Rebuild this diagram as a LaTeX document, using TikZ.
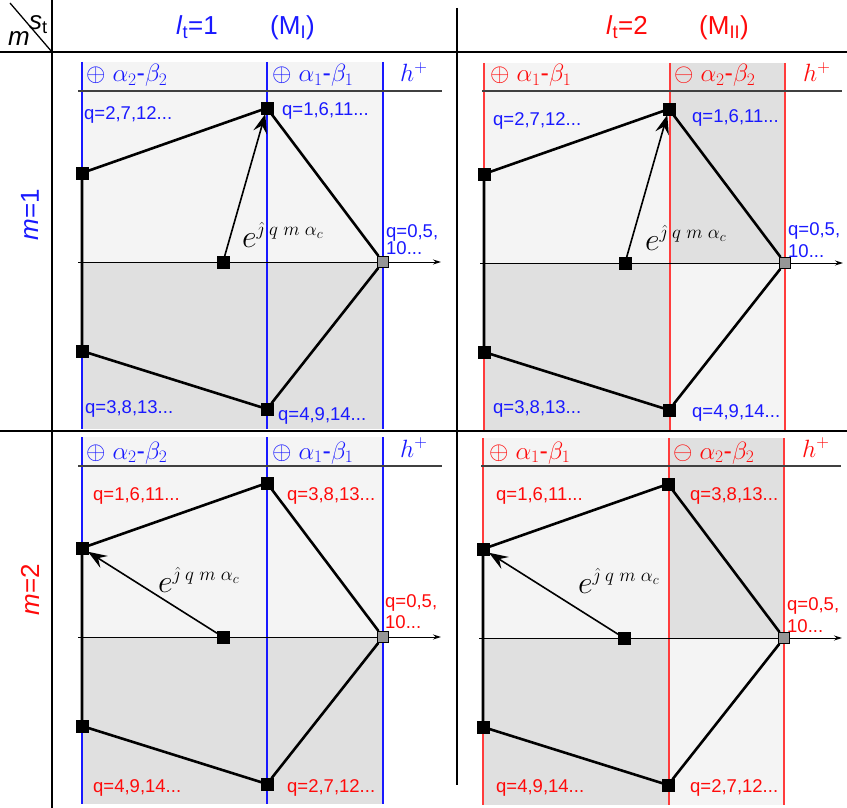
\documentclass[tikz,border=0pt]{standalone}
\usepackage{fix-cm}
\usepackage{fontspec}
\setmainfont{Liberation Sans}
\usetikzlibrary{arrows.meta}
\DeclareMathSizes{32}{32}{19}{14}
\definecolor{cblue}{RGB}{25,25,255}
\definecolor{cred}{RGB}{255,10,10}
\definecolor{lred}{RGB}{255,60,60}
\definecolor{gl}{RGB}{244,244,244}
\definecolor{gd}{RGB}{224,224,224}
\definecolor{gsqc}{RGB}{150,150,150}
\tikzset{
  sq/.style={fill=black, draw=black, minimum size=11.5pt, inner sep=0pt},
  gsqs/.style={fill=gsqc, draw=black, line width=1.5pt, minimum size=11pt, inner sep=0pt},
  pent/.style={line width=2.6pt, line cap=round},
  vec/.style={line width=1.6pt, -{Stealth[length=19pt,width=14pt,inset=7pt]}},
  axisline/.style={line width=0.9pt, -{Stealth[length=8pt,width=5pt]}},
  hdr/.style={anchor=base west, inner sep=0pt, font=\fontsize{25}{27}\selectfont},
  qlab/.style={anchor=base west, inner sep=0pt, font=\fontsize{18.5}{21}\selectfont},
  explab/.style={anchor=base west, inner sep=0pt, font=\fontsize{32}{34}\selectfont},
  gridline/.style={line width=2.8pt},
  hl/.style={line width=1.5pt, draw=black!75},
  vl/.style={line width=1.2pt},
  toptext/.style={anchor=base west, inner sep=0pt, font=\fontsize{26}{28}\selectfont},
}
\newcommand\shadeL{\fill[gl] (0,-200) rectangle (301,0); \fill[gd] (0,0) rectangle (301,167);}
\newcommand\shadeR{\fill[gl] (0,-200) rectangle (186,0); \fill[gd] (186,-200) rectangle (302,0);
  \fill[gd] (0,0) rectangle (186,167); \fill[gl] (186,0) rectangle (302,167);}
\newcommand\vlines[2]{\draw[vl,#1] (0,-200) -- (0,167) (#2,-200) -- (#2,167) (301,-200) -- (301,167);}
\newcommand\hdrline{\draw[hl] (-4,-171) -- (360,-171);}
\newcommand\panelbody[2]{%
  \coordinate (#1a0) at (-4,0);
  \coordinate (#1a1) at (359,0);
  \draw[axisline] (#1a0) -- (#1a1);
  \node[sq] (#1A) at (185,-154) {};
  \node[sq] (#1B) at (0,-89) {};
  \node[sq] (#1C) at (0,89) {};
  \node[sq] (#1D) at (185,147) {};
  \node[sq] (#1O) at (141,0) {};
  \node[gsqs] (#1E) at (301,0) {};
  \draw[pent] (#1A) -- (#1B) -- (#1C) -- (#1D) -- (#1E) -- (#1A);
  \draw[vec] (#1O) -- (#1#2);
}
\newcommand\expo{$e^{\hat{\jmath}\;q\;m\;\alpha_c}$}
\begin{document}
\begin{tikzpicture}[x=1pt,y=-1pt]
\useasboundingbox (0,0) rectangle (847,808);
% ---------- top-left panel
\begin{scope}[shift={(82,262)}]
  \shadeL
  \vlines{cblue}{185}
  \hdrline
  \panelbody{tl}{A}
  \node[hdr,cblue] (tlh1) at (4,-180) {$\oplus$ $\alpha_2$-$\beta_2$};
  \node[hdr,cblue] (tlh2) at (190,-180) {$\oplus$ $\alpha_1$-$\beta_1$};
  \node[hdr,cblue] (tlh3) at (318,-180) {$h^+$};
  \node[qlab,cblue] (tlq1) at (2,-142) {q=2,7,12...};
  \node[qlab,cblue] (tlq2) at (200,-147) {q=1,6,11...};
  \node[qlab,cblue] (tlq3) at (3,151) {q=3,8,13...};
  \node[qlab,cblue] (tlq4) at (196,158) {q=4,9,14...};
  \node[qlab,cblue] (tlq5) at (304,-25) {q=0,5,};
  \node[qlab,cblue] (tlq6) at (304,-8) {10...};
  \node[explab] (tle) at (160,-15) {\expo};
\end{scope}
% ---------- top-right panel
\begin{scope}[shift={(484,263)}]
  \shadeR
  \vlines{lred}{186}
  \draw[hl] (-2,-172) -- (358,-172);
  \panelbody{tr}{A}
  \node[hdr,cred] (trh1) at (6,-181) {$\oplus$ $\alpha_1$-$\beta_1$};
  \node[hdr,cred] (trh2) at (190,-181) {$\ominus$ $\alpha_2$-$\beta_2$};
  \node[hdr,cred] (trh3) at (319,-181) {$h^+$};
  \node[qlab,cblue] (trq1) at (9,-138) {q=2,7,12...};
  \node[qlab,cblue] (trq2) at (208,-141) {q=1,6,11...};
  \node[qlab,cblue] (trq3) at (9,150) {q=3,8,13...};
  \node[qlab,cblue] (trq4) at (208,154) {q=4,9,14...};
  \node[qlab,cblue] (trq5) at (304,-28) {q=0,5,};
  \node[qlab,cblue] (trq6) at (304,-6) {10...};
  \node[explab] (tre) at (161,-13) {\expo};
\end{scope}
% ---------- bottom-left panel
\begin{scope}[shift={(82,637)}]
  \shadeL
  \vlines{cblue}{185}
  \hdrline
  \panelbody{bl}{B}
  \node[hdr,cblue] (blh1) at (4,-178) {$\oplus$ $\alpha_2$-$\beta_2$};
  \node[hdr,cblue] (blh2) at (190,-178) {$\oplus$ $\alpha_1$-$\beta_1$};
  \node[hdr,cblue] (blh3) at (318,-180) {$h^+$};
  \node[qlab,cred] (blq1) at (11,-137) {q=1,6,11...};
  \node[qlab,cred] (blq2) at (205,-137) {q=3,8,13...};
  \node[qlab,cred] (blq3) at (11,155) {q=4,9,14...};
  \node[qlab,cred] (blq4) at (205,155) {q=2,7,12...};
  \node[qlab,cred] (blq5) at (303,-30) {q=0,5,};
  \node[qlab,cred] (blq6) at (303,-9) {10...};
  \node[explab] (ble) at (76,-45) {\expo};
\end{scope}
% ---------- bottom-right panel
\begin{scope}[shift={(483,638)}]
  \shadeR
  \vlines{lred}{186}
  \draw[hl] (-2,-172) -- (358,-172);
  \panelbody{br}{B}
  \node[hdr,cred] (brh1) at (6,-179) {$\oplus$ $\alpha_1$-$\beta_1$};
  \node[hdr,cred] (brh2) at (190,-179) {$\ominus$ $\alpha_2$-$\beta_2$};
  \node[hdr,cred] (brh3) at (319,-181) {$h^+$};
  \node[qlab,cred] (brq1) at (13,-138) {q=1,6,11...};
  \node[qlab,cred] (brq2) at (207,-138) {q=3,8,13...};
  \node[qlab,cred] (brq3) at (13,154) {q=4,9,14...};
  \node[qlab,cred] (brq4) at (207,154) {q=2,7,12...};
  \node[qlab,cred] (brq5) at (304,-28) {q=0,5,};
  \node[qlab,cred] (brq6) at (304,-6) {10...};
  \node[explab] (bre) at (95,-45) {\expo};
\end{scope}
% ---------- grid
\draw[gridline] (0,52) -- (847,52);
\draw[gridline] (0,431) -- (847,431);
\draw[gridline] (52,0) -- (52,808);
\draw[gridline] (457,8) -- (457,785);
\draw[line width=1.3pt] (10,3) -- (52,52);
% ---------- headings
\node[toptext] (cs) at (29,30) {\textit{s}\textsubscript{t}};
\node[toptext] (cm) at (8,46) {\textit{m}};
\node[toptext,cblue] (l1) at (176,35) {\textit{l}\textsubscript{t}=1};
\node[toptext,cblue] (m1) at (270,35) {(M\textsubscript{I})};
\node[toptext,cred] (l2) at (606,35) {\textit{l}\textsubscript{t}=2};
\node[toptext,cred] (m2) at (699,35) {(M\textsubscript{II})};
\node[inner sep=0pt,font=\fontsize{26}{28}\selectfont,cblue,rotate=90] (rm1) at (30,215) {\textit{m}=1};
\node[inner sep=0pt,font=\fontsize{26}{28}\selectfont,cred,rotate=90] (rm2) at (30,590) {\textit{m}=2};
\end{tikzpicture}
\end{document}
